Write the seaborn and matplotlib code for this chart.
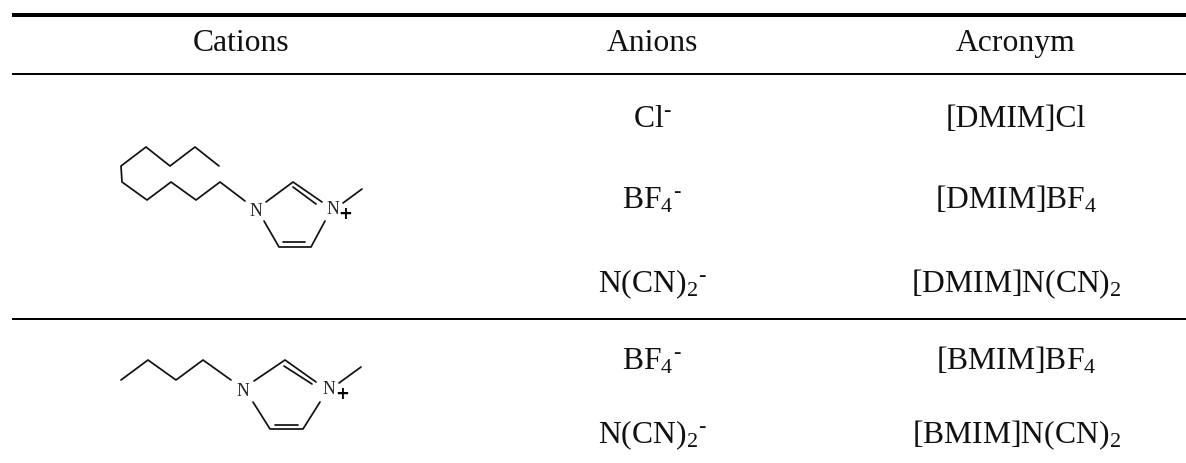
import matplotlib
matplotlib.use("Agg")
import matplotlib.pyplot as plt
import pandas as pd
import seaborn as sns

sns.set_theme(style="white")
plt.rcParams['font.family'] = ['Liberation Serif', 'DejaVu Serif']
plt.rcParams['mathtext.fontset'] = 'custom'
plt.rcParams['mathtext.rm'] = 'Liberation Serif'
plt.rcParams['mathtext.default'] = 'rm'

# Table content
headers = ["Cations", "Anions", "Acronym"]
anions = ["Cl$^{\\text{-}}$", "BF$_4$$^{\\text{-}}$", "N(CN)$_2$$^{\\text{-}}$",
          "BF$_4$$^{\\text{-}}$", "N(CN)$_2$$^{\\text{-}}$"]
acronyms = ["[DMIM]Cl", "[DMIM]BF$_4$", "[DMIM]N(CN)$_2$",
            "[BMIM]BF$_4$", "[BMIM]N(CN)$_2$"]
row_y = [127, 209, 292, 370, 443]
header_y = 51
col_x = [241, 652, 1016]
rules_y = [16, 75, 320]
rules_w = [4, 2, 2]

# Skeletal formulas, one list of points per bond path
dmim_bonds = [
    [(219, 167), (195, 148), (170, 167), (146, 148), (121, 167), (122, 183),
     (147, 201), (171, 183), (196, 201), (220, 183), (245, 202)],
    [(266, 203), (293, 183), (322, 203)],
    [(293, 188), (316, 205)],
    [(343, 204), (362, 190)],
    [(264, 222), (279, 248), (311, 248), (325, 222)],
    [(283, 243), (305, 243)],
]
bmim_bonds = [
    [(121, 381), (148, 361), (176, 381), (203, 361), (231, 381)],
    [(254, 382), (285, 361), (316, 383)],
    [(284, 367), (312, 385)],
    [(339, 384), (361, 368)],
    [(253, 403), (270, 430), (303, 430), (320, 403)],
    [(275, 426), (298, 426)],
]
n_labels = [(256, 212, "N"), (333, 210, "N"), (243, 392, "N"), (329, 390, "N")]
plus_labels = [(345, 214), (342, 394)]

rows = []
for i, path in enumerate(dmim_bonds + bmim_bonds):
    for x, y in path:
        rows.append({"bond": i, "x": x, "y": y})
bonds_df = pd.DataFrame(rows)

fig = plt.figure(figsize=(11.86, 4.64), dpi=100)
ax = fig.add_axes([0, 0, 1, 1])

sns.lineplot(data=bonds_df, x="x", y="y", units="bond", estimator=None, sort=False,
             color="#111111", linewidth=1.25, ax=ax, legend=False)

for y, w in zip(rules_y, rules_w):
    ax.plot([12, 1186], [y, y], color="black", linewidth=w * 0.72, solid_capstyle="butt")

size = 22.8
for x, h in zip(col_x, headers):
    ax.text(x, header_y, h, ha="center", va="baseline", fontsize=size, color="#111111")
for y, a, c in zip(row_y, anions, acronyms):
    ax.text(col_x[1], y, a, ha="center", va="baseline", fontsize=size, color="#111111")
    ax.text(col_x[2], y, c, ha="center", va="baseline", fontsize=size, color="#111111")
for x, y, s in n_labels:
    ax.text(x, y, s, ha="center", va="center", fontsize=12.7, color="#222222")
for x, y in plus_labels:
    ax.text(x, y, "+", ha="center", va="center", fontsize=12, fontweight="bold",
            family="DejaVu Sans", color="black")

ax.set_xlim(0, 1186)
ax.set_ylim(464, 0)
ax.set_xlabel("")
ax.set_ylabel("")
ax.axis("off")
fig.savefig("out.png", dpi=100, facecolor="white")
